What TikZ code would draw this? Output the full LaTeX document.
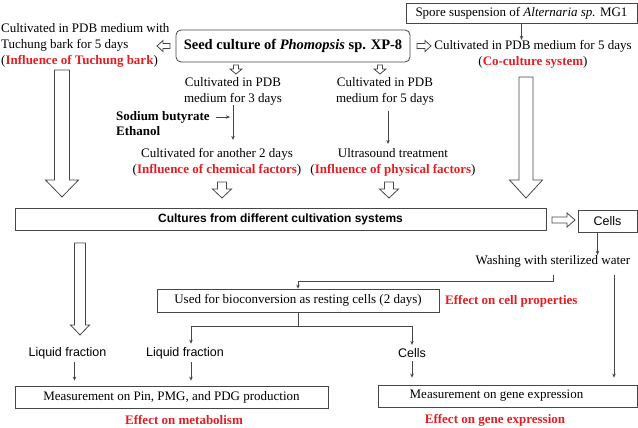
\documentclass[tikz,border=0pt]{standalone}
\usepackage{fontspec}
\setmainfont{Liberation Serif}
\setsansfont{Liberation Sans}
\usetikzlibrary{arrows.meta}

\definecolor{effred}{RGB}{225,30,35}
\definecolor{linegray}{RGB}{70,70,70}
\newcommand{\infl}[1]{\textcolor{effred}{\bfseries #1}}

% hollow block arrow, drawn downwards from its tail: length, shaft half, head half, head length
\tikzset{
  pics/blockarrow/.style n args={4}{code={
    \draw[hollow] (-#2,0) -- (-#2,#1-#4) -- (-#3,#1-#4) -- (0,#1)
      -- (#3,#1-#4) -- (#2,#1-#4) -- (#2,0) -- cycle;
  }}
}

\begin{document}
\begin{tikzpicture}[x=1pt,y=-1pt,
  font=\fontsize{13}{16}\selectfont,
  box/.style={draw=linegray, line width=0.8pt, inner sep=2pt},
  txt/.style={inner sep=0pt, align=center},
  sans/.style={font=\sffamily\fontsize{12.5}{15}\selectfont},
  effect/.style={inner sep=0pt, text=effred, font=\bfseries\fontsize{13}{16}\selectfont},
  arr/.style={draw=linegray, line width=0.6pt, -{Stealth[length=4pt,width=3.5pt]}},
  hollow/.style={draw=linegray, line width=0.8pt, fill=white, line join=miter}]

\useasboundingbox (0,0) rectangle (638,428);

% Top row
\node[box, rounded corners=5pt, minimum width=234, minimum height=32,
  font=\bfseries\fontsize{14.5}{17}\selectfont] (seed) at (293,46)
  {Seed culture of \textit{Phomopsis} sp. XP-8};
\node[txt, align=left, anchor=west] (tuchung) at (1,45)
  {Cultivated in PDB medium with\\Tuchung bark for 5 days\\(\infl{Influence of Tuchung bark})};
\node[box, minimum width=231, minimum height=20] (spore) at (521.5,13)
  {Spore suspension of \textit{Alternaria sp.} MG1};
\node[txt] (coculture) at (533,54)
  {Cultivated in PDB medium for 5 days\\(\infl{Co-culture system})};

% Chemical and physical branches
\node[txt] (cult3) at (233,91) {Cultivated in PDB\\medium for 3 days};
\node[txt] (cult5) at (385,91) {Cultivated in PDB\\medium for 5 days};
\node[txt, align=left, anchor=west, font=\bfseries\fontsize{13}{15}\selectfont] (chem) at (116,123.5)
  {Sodium butyrate\\Ethanol};
\node[txt] (another) at (217,162)
  {Cultivated for another 2 days\\(\infl{Influence of chemical factors})};
\node[txt] (ultra) at (393,162)
  {Ultrasound treatment\\(\infl{Influence of physical factors})};

% Middle row
\node[box, minimum width=531, minimum height=22,
  font=\sffamily\bfseries\fontsize{12}{14}\selectfont] (cultures) at (280.5,219)
  {Cultures from different cultivation systems};
\node[box, sans, minimum width=59, minimum height=22] (cells) at (607.5,221) {Cells};
\node[txt] (washing) at (553,261) {Washing with sterilized water};
\node[box, minimum width=282, minimum height=23] (used) at (298,300.5)
  {Used for bioconversion as resting cells (2 days)};
\node[effect, anchor=west] (effcell) at (445,301) {Effect on cell properties};

% Fractions
\node[sans] (liq1) at (67.5,353) {Liquid fraction};
\node[sans] (liq2) at (185,353) {Liquid fraction};
\node[sans] (cells2) at (412,353) {Cells};

% Bottom row
\node[box, minimum width=313, minimum height=22] (meas1) at (171.5,397)
  {Measurement on Pin, PMG, and PDG production};
\node[box, minimum width=259, minimum height=22] (meas2) at (507.5,396)
  {Measurement on gene expression\hspace*{22pt}};
\node[effect] (effmet) at (184,420) {Effect on metabolism};
\node[effect] (effgene) at (495,420) {Effect on gene expression};

% Hollow arrows
\pic[rotate=-90] at (170,46) {blockarrow={13}{2.5}{5.5}{6}};
\pic[rotate=90] at (417,46) {blockarrow={14}{2.5}{5.5}{6}};
\pic at (236,65) {blockarrow={9}{2.5}{6}{5}};
\pic at (380,65) {blockarrow={9}{2.5}{6}{5}};
\pic at (222,182) {blockarrow={16}{4.5}{9.5}{9}};
\pic at (389,182) {blockarrow={16}{4.5}{9.5}{9}};
\pic at (62,70) {blockarrow={127}{7.5}{16.5}{17}};
\pic at (526,77) {blockarrow={121}{7}{16.5}{18}};
\pic[rotate=90] at (552,220) {blockarrow={23}{3}{7}{8}};
\pic at (80,243) {blockarrow={92}{5.5}{9.5}{10}};

% Thin arrows
\coordinate (merge) at (233,117);
\draw[arr] (spore.south) -- (spore.south |- coculture.north);
\draw[arr, shorten >=8pt] (cult3.south) -- (cult3.south |- another.north);
\draw[arr] ([xshift=6pt]chem.east |- merge) -- ([xshift=-3pt]merge);
\draw[arr, shorten <=6pt, shorten >=4pt] ([xshift=3pt]cult5.south) -- ([xshift=3pt]cult5.south |- ultra.north);
\draw[arr] ([xshift=-10pt]cells.south) -- ([xshift=-10pt]cells.south |- washing.north);
\draw[arr, shorten <=8pt] (washing.south) -- ++(0,14) -| (used.north);
\draw[arr, shorten <=8pt, shorten >=7pt] ([xshift=61pt]washing.south) -- ([xshift=61pt]washing.south |- meas2.north);
\draw[draw=linegray, line width=0.6pt] (used.south) -- ++(0,14) coordinate (split);
\draw[arr] (split) -| ([xshift=6pt]liq2.north);
\draw[arr] (split) -| (cells2.north);
\draw[arr, shorten >=5pt] ([xshift=7pt]liq1.south) -- ([xshift=7pt]liq1.south |- meas1.north);
\draw[arr, shorten >=5pt] ([xshift=6pt]liq2.south) -- ([xshift=6pt]liq2.south |- meas1.north);
\draw[arr, shorten >=7pt] (cells2.south) -- (cells2.south |- meas2.north);

\end{tikzpicture}
\end{document}
